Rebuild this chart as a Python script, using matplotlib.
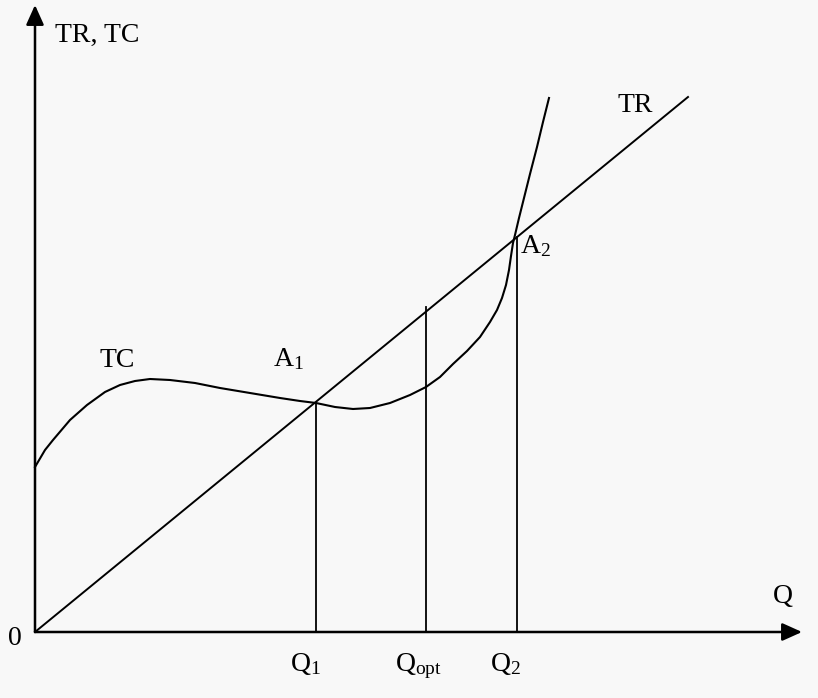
import matplotlib
matplotlib.use("Agg")
import matplotlib.pyplot as plt

plt.rcParams['font.family'] = ['Liberation Serif', 'DejaVu Serif']
plt.rcParams['mathtext.fontset'] = 'custom'
plt.rcParams['mathtext.rm'] = 'Liberation Serif'
plt.rcParams['mathtext.it'] = 'Liberation Serif'

# TC curve, points (Q, cost)
tc_q = [0, 10, 18, 35, 52, 70, 85, 100, 115, 135, 160, 185, 215, 245, 265, 281,
        300, 318, 335, 355, 375, 391, 405, 418, 432, 445, 455, 462, 467, 471,
        474, 476, 478, 480, 484, 489, 495, 502, 508, 514]
tc_cost = [165, 182, 192, 212, 227, 240, 247, 251, 253, 252, 249, 244, 239, 234,
           231, 229, 225, 223, 224, 229, 237, 245, 255, 268, 281, 295, 310, 322,
           334, 347, 362, 376, 389, 397, 414, 434, 458, 485, 510, 534]

# TR line
tr_q = [0, 653]
tr_rev = [0, 535]

# marked quantities and how high their guide lines go
q_marks = [281, 391, 482]
q_tops = [229, 325, 395]
q_labels = [r'Q$_\mathrm{1}$', r'Q$_\mathrm{opt}$', r'Q$_\mathrm{2}$']
q_label_x = [255, 360, 455]

fig = plt.figure(figsize=(8.18, 6.98), dpi=100, facecolor='#f8f8f8')
ax = fig.add_axes([0, 0, 1, 1])
ax.set_facecolor('#f8f8f8')
ax.set_xlim(-35, 783)
ax.set_ylim(-66, 632)
ax.axis('off')

# axes with arrows
arrow = dict(arrowstyle='-|>,head_length=1.0,head_width=0.45',
             mutation_scale=12, lw=1.8, color='black', shrinkA=0, shrinkB=0)
ax.annotate('', xy=(767, 0), xytext=(0, 0), arrowprops=arrow)
ax.annotate('', xy=(0, 627), xytext=(0, 0), arrowprops=arrow)

ax.plot(tr_q, tr_rev, color='black', lw=1.4)
ax.plot(tc_q, tc_cost, color='black', lw=1.5)

for q, top in zip(q_marks, q_tops):
    ax.plot([q, q], [0, top], color='black', lw=1.3)

fs = 20
ax.text(20, 590, 'TR, TC', fontsize=fs, ha='left', va='baseline')
ax.text(582, 520, 'TR', fontsize=fs, ha='left', va='baseline')
ax.text(65, 265, 'TC', fontsize=fs, ha='left', va='baseline')
ax.text(238, 266, r'A$_\mathrm{1}$', fontsize=fs, ha='left', va='baseline')
ax.text(485, 379, r'A$_\mathrm{2}$', fontsize=fs, ha='left', va='baseline')
ax.text(738, 29, 'Q', fontsize=fs, ha='left', va='baseline')
ax.text(-27, -13, '0', fontsize=fs, ha='left', va='baseline')
for x, lab in zip(q_label_x, q_labels):
    ax.text(x, -39, lab, fontsize=fs, ha='left', va='baseline')

fig.savefig('out.png', dpi=100, facecolor=fig.get_facecolor())
